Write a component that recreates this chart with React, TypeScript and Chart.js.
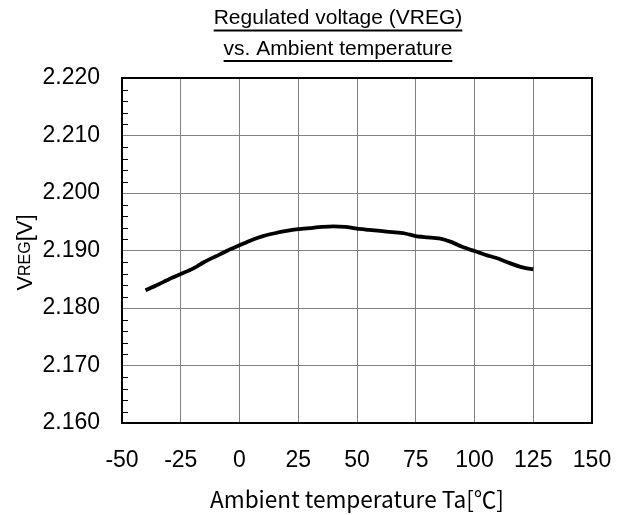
import React, { useEffect, useRef } from "react";
import { Chart, registerables } from "chart.js";

Chart.register(...registerables);

const temperatures = [-40, -35, -30, -25, -20, -15, -10, -5, 0, 5, 10, 15, 20, 25, 30, 35, 40, 45, 50, 55, 60, 65, 70, 75, 80, 85, 90, 95, 100, 105, 110, 115, 120, 125];
const vregValues = [2.1831, 2.184, 2.185, 2.1859, 2.1868, 2.188, 2.189, 2.19, 2.1909, 2.1918, 2.1925, 2.193, 2.1934, 2.1937, 2.1939, 2.1941, 2.1942, 2.1941, 2.1938, 2.1936, 2.1934, 2.1932, 2.193, 2.1925, 2.1923, 2.1921, 2.1915, 2.1906, 2.1899, 2.1892, 2.1886, 2.1878, 2.1871, 2.1867];
const xTicks = { min: -50, max: 150, step: 25 };
const yTicks = { min: 2.16, max: 2.22, step: 0.01, minorStep: 0.002 };
const titleLines = ["Regulated voltage (VREG)", "vs. Ambient temperature"];
const xAxisTitle = "Ambient temperature Ta[℃]";
const yAxisTitleParts = ["V", "REG", "[V]"];

const SANS = '"Liberation Sans", Arial, sans-serif';

const framePlugin = {
  id: "frame",
  afterDraw(chart: any) {
    const { ctx, chartArea } = chart;
    const y = chart.scales.y;
    ctx.save();
    ctx.strokeStyle = "#000";
    ctx.lineWidth = 1;
    const n = Math.round((yTicks.max - yTicks.min) / yTicks.minorStep);
    for (let i = 1; i < n; i++) {
      if (i % 5 === 0) continue;
      const v = yTicks.min + i * yTicks.minorStep;
      const py = Math.round(y.getPixelForValue(v)) + 0.5;
      ctx.beginPath();
      ctx.moveTo(chartArea.left, py);
      ctx.lineTo(chartArea.left + 6, py);
      ctx.stroke();
    }
    ctx.lineWidth = 2;
    ctx.strokeRect(chartArea.left, chartArea.top, chartArea.right - chartArea.left, chartArea.bottom - chartArea.top);

    ctx.fillStyle = "#000";
    ctx.font = `21px ${SANS}`;
    ctx.textAlign = "center";
    ctx.textBaseline = "alphabetic";
    const cx = 338;
    const baselines = [24, 54.5];
    titleLines.forEach((t, i) => {
      ctx.fillText(t, cx, baselines[i]);
      const w = ctx.measureText(t).width;
      ctx.fillRect(cx - w / 2, baselines[i] + 5.5, w, 2);
    });

    ctx.translate(32, 252.5);
    ctx.rotate(-Math.PI / 2);
    ctx.textAlign = "left";
    const mainFont = `22px ${SANS}`;
    const subFont = `16px ${SANS}`;
    ctx.font = mainFont;
    const w0 = ctx.measureText(yAxisTitleParts[0]).width;
    const w2 = ctx.measureText(yAxisTitleParts[2]).width;
    ctx.font = subFont;
    const w1 = ctx.measureText(yAxisTitleParts[1]).width;
    const total = w0 + w1 + w2;
    let x = -total / 2;
    ctx.font = mainFont;
    ctx.fillText(yAxisTitleParts[0], x, 0);
    x += w0;
    ctx.font = subFont;
    ctx.fillText(yAxisTitleParts[1], x, -2.4);
    x += w1;
    ctx.font = mainFont;
    ctx.fillText(yAxisTitleParts[2], x, 0);
    ctx.restore();
  },
};

export default function App() {
  const ref = useRef<HTMLCanvasElement | null>(null);
  useEffect(() => {
    if (!ref.current) return;
    const chart = new Chart(ref.current, {
      type: "line",
      data: {
        datasets: [
          {
            data: temperatures.map((t, i) => ({ x: t, y: vregValues[i] })),
            borderColor: "#000",
            borderWidth: 3.8,
            pointRadius: 0,
            tension: 0.2,
            borderJoinStyle: "round",
            fill: false,
          },
        ],
      },
      options: {
        animation: false,
        responsive: false,
        layout: { autoPadding: false, padding: { top: 78, right: 36, left: 0, bottom: 0 } },
        plugins: { legend: { display: false }, title: { display: false }, tooltip: { enabled: false } },
        scales: {
          x: {
            type: "linear",
            min: xTicks.min,
            max: xTicks.max,
            ticks: { stepSize: xTicks.step, color: "#000", font: { family: SANS, size: 23 }, padding: 24, maxRotation: 0 },
            grid: { color: "#808080", lineWidth: 1, drawTicks: false },
            border: { display: false },
            title: {
              display: true,
              text: xAxisTitle,
              color: "#000",
              font: { family: '"Noto Sans CJK JP", sans-serif', size: 22.6 },
              padding: { top: 2, bottom: 2 },
            },
            afterFit: (s: any) => {
              s.height = 92;
              s.paddingLeft = 0;
              s.paddingRight = 0;
            },
          },
          y: {
            type: "linear",
            min: yTicks.min,
            max: yTicks.max,
            ticks: {
              stepSize: yTicks.step,
              color: "#000",
              font: { family: SANS, size: 23 },
              padding: 22,
              callback: (v: any) => Number(v).toFixed(3),
            },
            grid: { color: "#808080", lineWidth: 1, drawTicks: false },
            border: { display: false },
            afterFit: (s: any) => {
              s.width = 122;
              s.paddingTop = 0;
              s.paddingBottom = 0;
            },
          },
        },
      },
      plugins: [framePlugin],
    } as any);
    return () => chart.destroy();
  }, []);
  return (
    <div style={{ position: "absolute", left: 0, top: 0, width: 628, height: 515, background: "#fff" }}>
      <canvas ref={ref} width={628} height={515} />
    </div>
  );
}
